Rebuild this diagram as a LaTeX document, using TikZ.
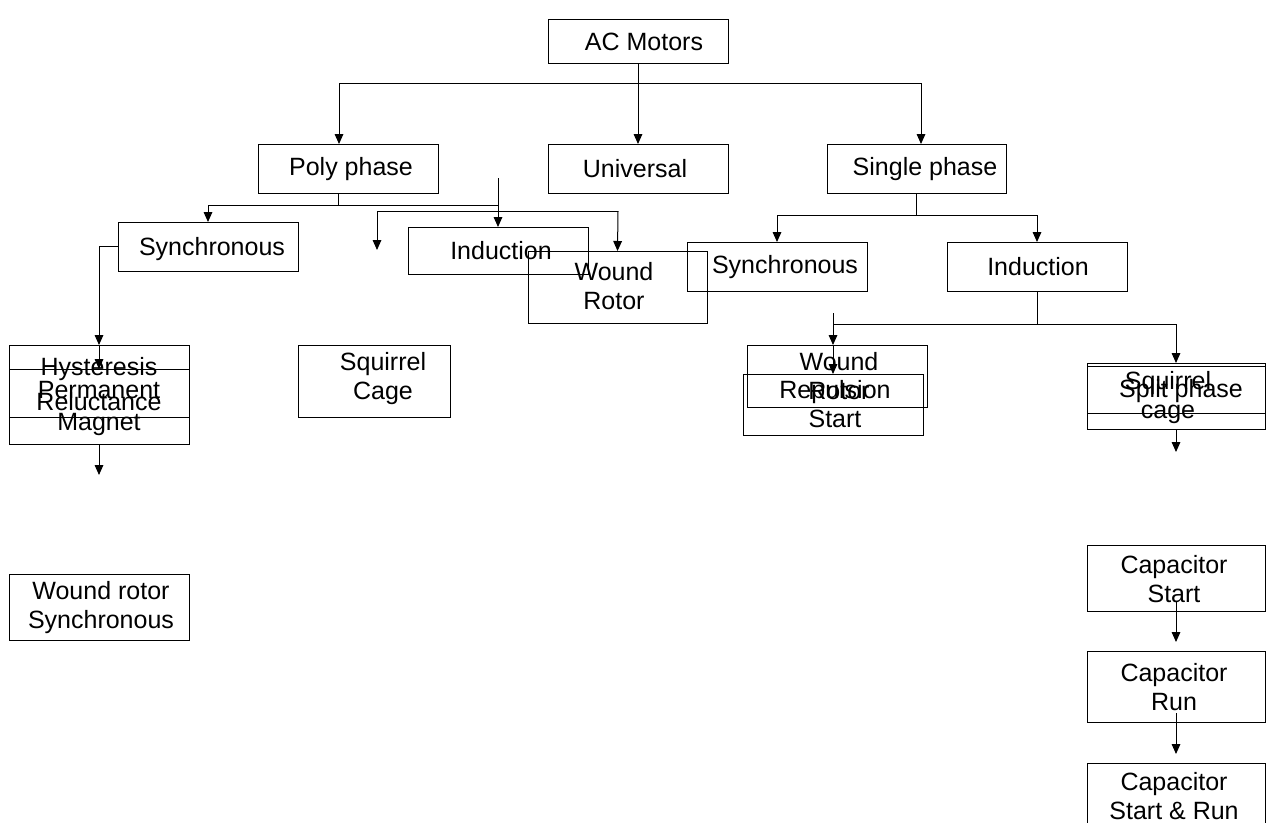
\documentclass[tikz,border=0pt]{standalone}
\usepackage{fontspec}
\setmainfont{Liberation Sans}
\usetikzlibrary{arrows.meta,calc,fit}
\begin{document}
\begin{tikzpicture}[x=0.75pt,y=-0.75pt,
  box/.style={draw=black,line width=0.75pt,rectangle,inner sep=0pt,outer sep=0pt},
  lbl/.style={inner sep=0pt,align=center,font=\fontsize{18.75pt}{21.75pt}\selectfont},
  conn/.style={draw=black,line width=0.75pt},
  arr/.style={conn,-{Triangle[length=7.5pt,width=6.5pt]}}]
\useasboundingbox[fill=white] (0,0) rectangle (1273,822);

% top level
\node[box,fit={(548,19) (728,63)}] (ac) {};
\node[lbl] (t-ac) at (644,42) {AC Motors};
\node[box,fit={(258,144) (438,193)}] (poly) {};
\node[lbl] (t-poly) at (351,169) {Poly phase};
\node[box,fit={(548,144) (728,193)}] (univ) {};
\node[lbl] (t-univ) at (635,169) {Universal};
\node[box,fit={(827,144) (1006,193)}] (single) {};
\node[lbl] (t-single) at (925,169) {Single phase};

% poly phase children
\node[box,fit={(118,222) (298,271)}] (syn1) {};
\node[lbl] (t-syn1) at (212,249) {Synchronous};
\node[box,fit={(408,227) (588,274)}] (ind1) {};
\node[lbl] (t-ind1) at (501,251) {Induction};
\node[box,fit={(528,251) (707,323)}] (wr1) {};
\node[lbl] (t-wr1) at (614,286) {Wound\\Rotor};
\node[box,fit={(298,345) (450,417)}] (sq1) {};
\node[lbl] (t-sq1) at (383,379) {Squirrel\\Cage};

% left column
\node[box,fit={(9,345) (189,417)}] (hy) {};
\node[lbl] (t-hy) at (99,369) {Hysteresis};
\node[box,fit={(9,369) (189,444)}] (pm) {};
\node[lbl,text depth=0pt] (t-pm) at (99,406) {Permanent\\[2pt]Magnet};
\node[box,fit={(9,369) (189,417)}] (rl) {};
\node[lbl] (t-rl) at (99,402) {Reluctance};
\node[box,fit={(9,574) (189,640)}] (wrs) {};
\node[lbl] (t-wrs) at (101,608) {Wound rotor\\Synchronous};

% single phase children
\node[box,fit={(687,242) (867,291)}] (syn2) {};
\node[lbl] (t-syn2) at (785,267) {Synchronous};
\node[box,fit={(947,242) (1127,291)}] (ind2) {};
\node[lbl] (t-ind2) at (1038,267) {Induction};
\node[box,fit={(747,345) (927,407)}] (wr2) {};
\node[lbl] (t-wr2) at (839,376) {Wound\\Rotor};
\node[box,fit={(743,374) (923,435)}] (rs) {};
\node[lbl] (t-rs) at (835,404) {Repulsion\\Start};
\node[box,fit={(1087,363) (1265,429)}] (sqc) {};
\node[lbl] (t-sqc) at (1168,398) {Squirrel\\cage};
\node[box,fit={(1087,366) (1265,413)}] (sp) {};
\node[lbl] (t-sp) at (1181,391) {Split phase};
\node[box,fit={(1087,545) (1265,611)}] (cs) {};
\node[lbl] (t-cs) at (1174,579) {Capacitor\\Start};
\node[box,fit={(1087,651) (1265,722)}] (cr) {};
\node[lbl] (t-cr) at (1174,687) {Capacitor\\Run};
\node[box,fit={(1087,763) (1265,830)}] (csr) {};
\node[lbl] (t-csr) at (1174,796) {Capacitor\\Start \& Run};

% connectors: AC Motors
\coordinate (jA) at (339,83);
\coordinate (jB) at (921,83);
\draw[conn] (ac.south) -- (ac.south |- jA);
\draw[conn] (jA) -- (jB);
\draw[arr] (jA) -- (jA |- poly.north);
\draw[arr] (ac.south) -- (univ.north);
\draw[arr] (jB) -- (jB |- single.north);

% poly phase
\coordinate (pA) at (338,205);
\coordinate (pL) at (208,205);
\coordinate (pR) at (498,205);
\draw[conn] (pA |- poly.south) -- (pA);
\draw[conn] (pL) -- (pR);
\draw[arr] (pL) -- (syn1.north);
\draw[arr] (pR) -- (ind1.north);
\coordinate (s0) at (498,178);
\coordinate (sL) at (377,211);
\coordinate (sR) at (618,211);
\coordinate (sLe) at (377,250);
\draw[conn] (s0) -- (s0 |- sL);
\draw[conn] (sL) -- (sR);
\draw[arr] (sL) -- (sLe);
\draw[arr] (sR) -- (wr1.north);

% synchronous (poly) to left column
\draw[arr] (syn1.west) -| (hy.north);
\draw[arr] (hy.north) -- (pm.north);
\coordinate (lE) at (99,475);
\draw[arr] (pm.south) -- (lE);

% single phase
\coordinate (qL) at (777,215);
\coordinate (qR) at (1037,215);
\draw[conn] (single.south) -- (single.south |- qL);
\draw[conn] (qL) -- (qR);
\draw[arr] (qL) -- (syn2.north);
\draw[arr] (qR) -- (ind2.north);

% induction (single)
\coordinate (rL) at (833,324);
\coordinate (rR) at (1176,324);
\coordinate (r0) at (833,313);
\draw[conn] (ind2.south) -- (ind2.south |- rL);
\draw[conn] (rL) -- (rR);
\draw[arr] (rR) -- (sqc.north);
\draw[arr] (r0) -- (r0 |- wr2.north);
\draw[arr] (r0 |- wr2.north) -- (r0 |- rs.north);

% split phase chain
\coordinate (spE) at (1176,452);
\draw[arr] (sqc.south) -- (spE);
\draw[arr] ($(cs.south)+(0,-9)$) -- ($(cr.north)+(0,-9)$);
\draw[arr] ($(cr.south)+(0,-9)$) -- ($(csr.north)+(0,-9)$);
\end{tikzpicture}
\end{document}
